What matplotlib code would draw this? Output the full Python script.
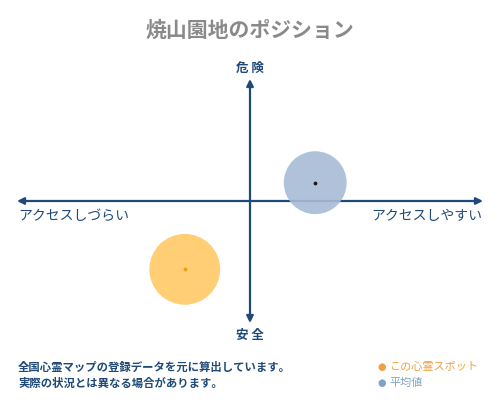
import matplotlib
matplotlib.use("Agg")
import matplotlib.pyplot as plt

plt.rcParams['font.family'] = ['Noto Sans CJK JP', 'DejaVu Sans']

# データ (横: アクセス -1..1, 縦: 危険度 -1..1)
names = ['この心霊スポット', '平均値']
access = [-0.28, 0.28]
danger = [-0.56, 0.15]
sizes = [2600, 2050]
fill_colors = ['#FFC966', '#A7BCD6']
dot_colors = ['#E8A317', '#1a1a1a']
legend_colors = ['#F0A040', '#7FA2C6']

title = '焼山園地のポジション'
label_top = '危 険'
label_bottom = '安 全'
label_left = 'アクセスしづらい'
label_right = 'アクセスしやすい'
notes = ['全国心霊マップの登録データを元に算出しています。',
         '実際の状況とは異なる場合があります。']

navy = '#1F4A78'

fig = plt.figure(figsize=(5, 4), dpi=100)
ax = fig.add_axes([17/500, 77/400, 466/500, 244/400])
ax.set_xlim(-1, 1)
ax.set_ylim(-1, 1)
ax.axis('off')

# 軸の矢印
ax.annotate('', xy=(1, 0), xytext=(-1, 0),
            arrowprops=dict(arrowstyle='<|-|>', color=navy, lw=1.6,
                            mutation_scale=10, shrinkA=0, shrinkB=0))
ax.annotate('', xy=(0, 1), xytext=(0, -1),
            arrowprops=dict(arrowstyle='<|-|>', color=navy, lw=1.6,
                            mutation_scale=10, shrinkA=0, shrinkB=0))

for x, y, s, fc, dc in zip(access, danger, sizes, fill_colors, dot_colors):
    ax.scatter(x, y, s=s, color=fc, alpha=0.9, edgecolors='none', zorder=3)
    ax.scatter(x, y, s=3, color=dc, zorder=4)

fig.text(0.5, 1 - 30/400, title, ha='center', va='center',
         fontsize=15, fontweight='bold', color='#8a8a8a')
fig.text(0.5, 1 - 68/400, label_top, ha='center', va='center',
         fontsize=9, fontweight='bold', color=navy)
fig.text(0.5, 1 - 335/400, label_bottom, ha='center', va='center',
         fontsize=9, fontweight='bold', color=navy)
fig.text(18/500, 1 - 216/400, label_left, ha='left', va='center',
         fontsize=10, color=navy)
fig.text(482/500, 1 - 216/400, label_right, ha='right', va='center',
         fontsize=10, color=navy)

for i, line in enumerate(notes):
    fig.text(18/500, 1 - (367 + 16*i)/400, line, ha='left', va='center',
             fontsize=8.2, fontweight='bold', color=navy)

for i, (name, c) in enumerate(zip(names, legend_colors)):
    yy = 1 - (367 + 16*i)/400
    fig.text(382/500, yy, '●', ha='center', va='center', fontsize=7, color=c,
             family='DejaVu Sans')
    fig.text(389/500, yy, name, ha='left', va='center', fontsize=8, color=c)

fig.savefig('out.png', dpi=100)
